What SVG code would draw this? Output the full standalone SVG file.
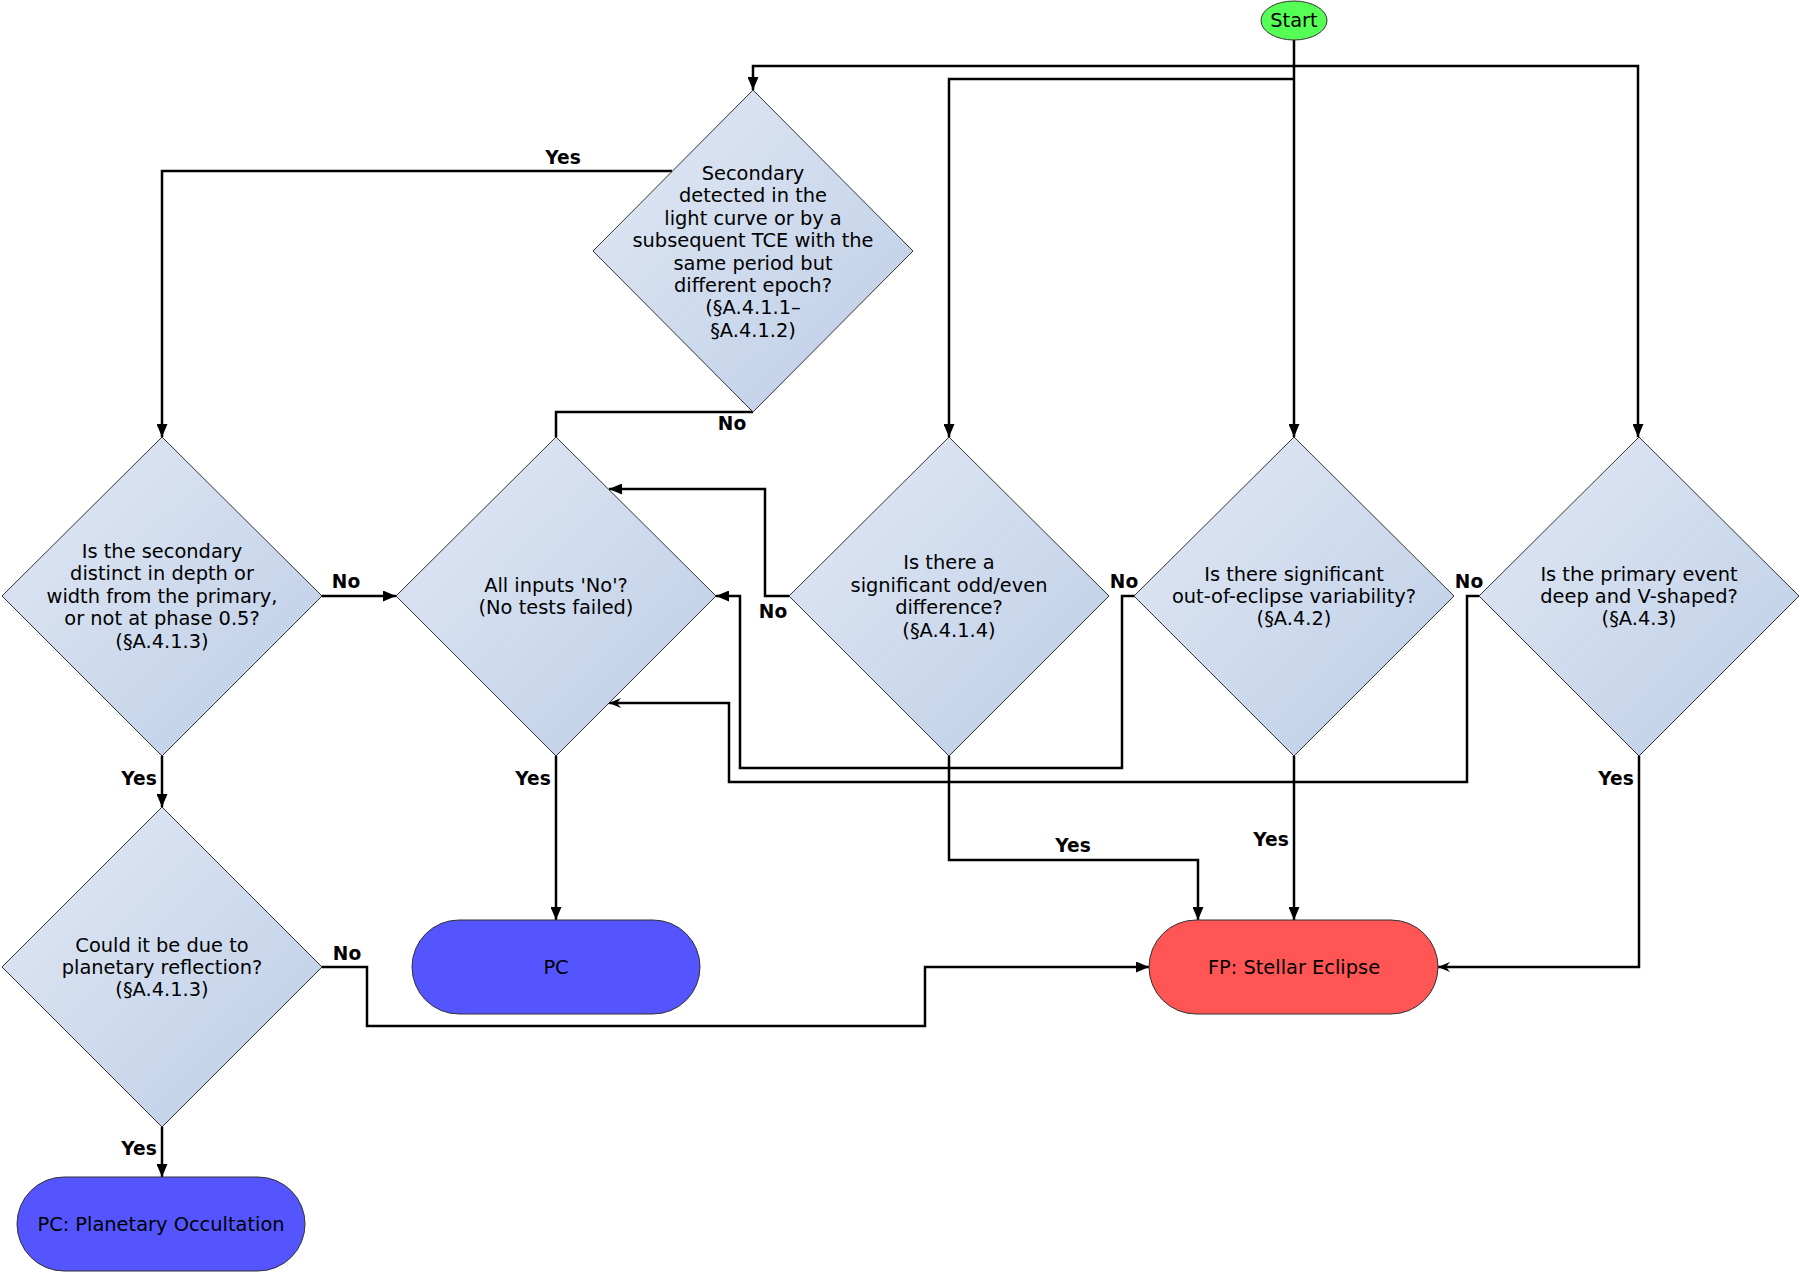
<svg xmlns="http://www.w3.org/2000/svg" width="1800" height="1272" viewBox="0 0 1800 1272">
<style>
.dia{fill:url(#dg);stroke:#333;stroke-width:1}
.term{stroke:#333;stroke-width:1}
.t{font-family:"DejaVu Sans","Liberation Sans",sans-serif;font-size:19.4px;fill:#000;text-anchor:middle}
.lb{font-family:"DejaVu Sans","Liberation Sans",sans-serif;font-size:18.6px;font-weight:bold;fill:#000;text-anchor:middle}
.c{fill:none;stroke:#000;stroke-width:2.5}
.a{marker-end:url(#arr)}
.a2{marker-end:url(#arr2)}
</style>
<defs>
<linearGradient id="dg" x1="0" y1="0" x2="1" y2="1">
<stop offset="0" stop-color="#e2e9f5"/>
<stop offset="1" stop-color="#bccde6"/>
</linearGradient>
<marker id="arr" markerUnits="userSpaceOnUse" markerWidth="13" markerHeight="11" refX="13" refY="5.5" orient="auto">
<path d="M0,0 L13,5.5 L0,11 z" fill="#000"/>
</marker>
<marker id="arr2" markerUnits="userSpaceOnUse" markerWidth="12" markerHeight="10" refX="12" refY="5" orient="auto">
<path d="M0,0 L12,5 L0,10 L4,5 z" fill="#000"/>
</marker>
</defs>
<rect width="1800" height="1272" fill="#fff"/>
<g id="connectors">
<path class="c a" d="M1294,40 V437"/>
<path class="c a" d="M1294,66 H753 V90"/>
<path class="c a" d="M1294,66 H1638 V437"/>
<path class="c a" d="M1294,79 H949 V437"/>
<path class="c a" d="M672,171 H162 V437"/>
<path class="c" d="M753,412 H556 V437"/>
<path class="c a" d="M322,596 H396"/>
<path class="c a" d="M162,756 V807"/>
<path class="c a" d="M556,756 V920"/>
<path class="c a" d="M789,596 H765 V489 H609"/>
<path class="c a" d="M1135,596 H1122 V768 H740 V596 H716"/>
<path class="c a2" d="M1479,596 H1467 V782 H729 V703 H609"/>
<path class="c a" d="M949,756 V860 H1198 V920"/>
<path class="c a" d="M1294,756 V920"/>
<path class="c a2" d="M1639,756 V967 H1438"/>
<path class="c a" d="M322,967 H367 V1026 H925 V967 H1149"/>
<path class="c a" d="M162,1127 V1177"/>
<text class="lb" x="563" y="164">Yes</text>
<text class="lb" x="732" y="430">No</text>
<text class="lb" x="346" y="588">No</text>
<text class="lb" x="139" y="785">Yes</text>
<text class="lb" x="533" y="785">Yes</text>
<text class="lb" x="773" y="618">No</text>
<text class="lb" x="1124" y="588">No</text>
<text class="lb" x="1469" y="588">No</text>
<text class="lb" x="1073" y="852">Yes</text>
<text class="lb" x="1271" y="846">Yes</text>
<text class="lb" x="1616" y="785">Yes</text>
<text class="lb" x="347" y="960">No</text>
<text class="lb" x="139" y="1155">Yes</text>
</g>
<g id="start">
<ellipse cx="1294" cy="20.5" rx="33" ry="19.5" fill="#55ff55" class="term"/>
<text class="t" x="1294" y="27">Start</text>
</g>
<g id="secondary">
<polygon class="dia" points="753,90 913,251 753,412 593,251"/>
<text class="t" x="753" y="180">Secondary</text>
<text class="t" x="753" y="202.4">detected in the</text>
<text class="t" x="753" y="224.8">light curve or by a</text>
<text class="t" x="753" y="247.2">subsequent TCE with the</text>
<text class="t" x="753" y="269.6">same period but</text>
<text class="t" x="753" y="292">different epoch?</text>
<text class="t" x="753" y="314.4">(§A.4.1.1–</text>
<text class="t" x="753" y="336.8">§A.4.1.2)</text>
</g>
<g id="distinct">
<polygon class="dia" points="162,437 322,596 162,756 2,596"/>
<text class="t" x="162" y="558">Is the secondary</text>
<text class="t" x="162" y="580.4">distinct in depth or</text>
<text class="t" x="162" y="602.8">width from the primary,</text>
<text class="t" x="162" y="625.2">or not at phase 0.5?</text>
<text class="t" x="162" y="647.6">(§A.4.1.3)</text>
</g>
<g id="allno">
<polygon class="dia" points="556,437 716,596 556,756 396,596"/>
<text class="t" x="556" y="591.8">All inputs 'No'?</text>
<text class="t" x="556" y="614.2">(No tests failed)</text>
</g>
<g id="oddeven">
<polygon class="dia" points="949,437 1109,596 949,756 789,596"/>
<text class="t" x="949" y="569.4">Is there a</text>
<text class="t" x="949" y="591.8">significant odd/even</text>
<text class="t" x="949" y="614.2">difference?</text>
<text class="t" x="949" y="636.6">(§A.4.1.4)</text>
</g>
<g id="variability">
<polygon class="dia" points="1294,437 1454,596 1294,756 1134,596"/>
<text class="t" x="1294" y="580.6">Is there significant</text>
<text class="t" x="1294" y="603">out-of-eclipse variability?</text>
<text class="t" x="1294" y="625.4">(§A.4.2)</text>
</g>
<g id="vshape">
<polygon class="dia" points="1639,437 1799,596 1639,756 1479,596"/>
<text class="t" x="1639" y="580.6">Is the primary event</text>
<text class="t" x="1639" y="603">deep and V-shaped?</text>
<text class="t" x="1639" y="625.4">(§A.4.3)</text>
</g>
<g id="reflection">
<polygon class="dia" points="162,807 322,967 162,1127 2,967"/>
<text class="t" x="162" y="951.6">Could it be due to</text>
<text class="t" x="162" y="974">planetary reflection?</text>
<text class="t" x="162" y="996.4">(§A.4.1.3)</text>
</g>
<g id="pc">
<rect class="term" x="412" y="920" width="288" height="94" rx="47" ry="47" fill="#5555ff"/>
<text class="t" x="556" y="974">PC</text>
</g>
<g id="occultation">
<rect class="term" x="17" y="1177" width="288" height="94" rx="47" ry="47" fill="#5555ff"/>
<text class="t" x="161" y="1231">PC: Planetary Occultation</text>
</g>
<g id="eclipse">
<rect class="term" x="1149" y="920" width="289" height="94" rx="47" ry="47" fill="#ff5555"/>
<text class="t" x="1294" y="974">FP: Stellar Eclipse</text>
</g>
</svg>
